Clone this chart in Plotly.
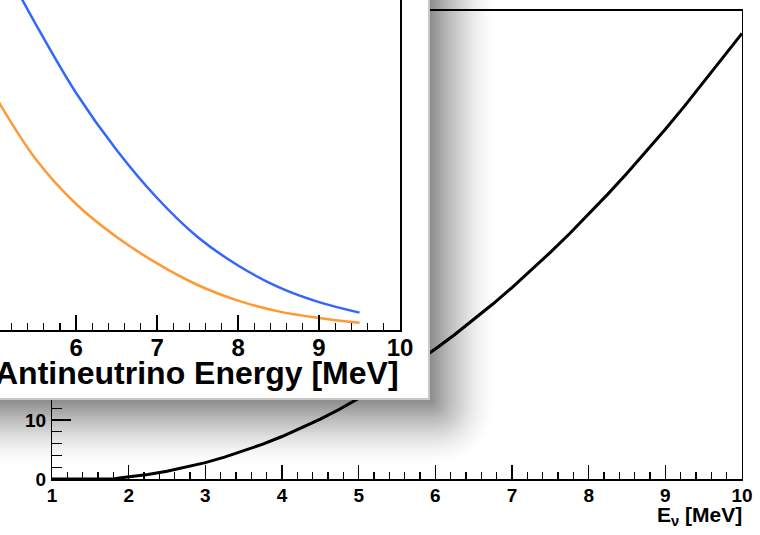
import plotly.graph_objects as go

# ---- background chart: cross section vs neutrino energy ----
energy = [1.0, 1.25, 1.5, 1.75, 1.8, 1.9, 2.0, 2.25, 2.5, 2.75, 3.0, 3.25, 3.5, 3.75,
          4.0, 4.25, 4.5, 4.75, 5.0, 5.25, 5.5, 5.75, 6.0, 6.25, 6.5, 6.75, 7.0,
          7.25, 7.5, 7.75, 8.0, 8.25, 8.5, 8.75, 9.0, 9.25, 9.5, 9.75, 10.0]
xsec = [0.0, 0.0, 0.0, 0.0, 0.0, 0.2, 0.345, 0.77, 1.32, 1.99, 2.78, 3.70, 4.74, 5.90,
        7.20, 8.61, 10.15, 11.82, 13.61, 15.53, 17.57, 19.73, 22.03, 24.44, 26.98,
        29.65, 32.44, 35.36, 38.40, 41.56, 44.85, 48.27, 51.81, 55.48, 59.27,
        63.18, 67.22, 71.39, 75.5]
bg_xticks = [1, 2, 3, 4, 5, 6, 7, 8, 9, 10]
bg_yticks = [0, 10, 20, 30, 40, 50, 60, 70]

# ---- inset: antineutrino spectra ----
inset_energy = [5.0, 5.5, 6.0, 6.5, 7.0, 7.5, 8.0, 8.5, 9.0, 9.5]
flux_blue = [1.27, 1.02, 0.79, 0.60, 0.44, 0.31, 0.215, 0.143, 0.093, 0.058]
flux_orange = [0.78, 0.57, 0.42, 0.31, 0.222, 0.150, 0.098, 0.062, 0.040, 0.024]
inset_xticks = [6, 7, 8, 9, 10]

W, H = 760, 535
FONT = "Liberation Sans"

fig = go.Figure()

fig.add_trace(go.Scatter(x=energy, y=xsec, mode="lines",
                         line=dict(color="black", width=3),
                         xaxis="x", yaxis="y", hoverinfo="skip"))
# invisible carrier for the overlay (panel + shadow) subplot
fig.add_trace(go.Scatter(x=[0], y=[0], mode="markers", marker=dict(opacity=0),
                         xaxis="x2", yaxis="y2", hoverinfo="skip"))
fig.add_trace(go.Scatter(x=inset_energy, y=flux_blue, mode="lines",
                         line=dict(color="#3366ff", width=2.5, shape="spline"),
                         xaxis="x3", yaxis="y3", hoverinfo="skip"))
fig.add_trace(go.Scatter(x=inset_energy, y=flux_orange, mode="lines",
                         line=dict(color="#ff9933", width=2.5, shape="spline"),
                         xaxis="x3", yaxis="y3", hoverinfo="skip"))

# soft drop shadow + panel shapes (pixel space of the overlay subplot)
shapes = []
N, step, DMAX, REACH = 32, 2.0, 0.42, 66.0
PX, PY = 430, 400


def dark(j):
    if j > N:
        return 0.0
    d = (j - 0.5) * step
    return DMAX * max(0.0, 1 - d / REACH) ** 1.5


for k in range(N, 0, -1):
    a = 1 - (1 - dark(k)) / (1 - dark(k + 1))
    X = PX + k * step
    Y = PY + k * step
    r = k * step
    path = (f"M -20,-20 L {X:.2f},-20 L {X:.2f},{Y - r:.2f} "
            f"Q {X:.2f},{Y:.2f} {X - r:.2f},{Y:.2f} L -20,{Y:.2f} Z")
    shapes.append(dict(type="path", path=path, xref="x2", yref="y2", layer="below",
                       fillcolor=f"rgba(0,0,0,{a:.4f})", line=dict(width=0)))
shapes.append(dict(type="rect", x0=-5, y0=-5, x1=PX - 1, y1=PY - 1, xref="x2", yref="y2",
                   layer="below", fillcolor="white", line=dict(color="#c8c8c8", width=2)))

tf_bg = dict(family=FONT, size=19, color="black", weight="bold")
tf_in = dict(family=FONT, size=24, color="black", weight="bold")

fig.update_layout(
    template="none",
    width=W, height=H,
    margin=dict(l=0, r=0, t=0, b=0, pad=0, autoexpand=False),
    paper_bgcolor="white", plot_bgcolor="rgba(0,0,0,0)",
    showlegend=False, hovermode=False,
    shapes=shapes,
    xaxis=dict(domain=[52 / W, 742 / W], range=[1, 10], anchor="y", automargin=False,
               tickmode="array", tickvals=bg_xticks, ticktext=[str(v) for v in bg_xticks],
               ticks="inside", ticklen=14, tickwidth=1.5, tickcolor="black",
               minor=dict(dtick=0.2, ticks="inside", ticklen=7, tickwidth=1.2, tickcolor="black"),
               showline=True, linewidth=2, linecolor="black", mirror=True,
               ticklabelstandoff=-2,
               showgrid=False, zeroline=False, tickfont=tf_bg),
    yaxis=dict(domain=[(H - 479) / H, (H - 11) / H], range=[0, 79.3], anchor="x", automargin=False,
               tickmode="array", tickvals=bg_yticks, ticktext=[str(v) for v in bg_yticks],
               ticks="inside", ticklen=19, tickwidth=1.2, tickcolor="black",
               minor=dict(dtick=2, ticks="inside", ticklen=10, tickwidth=1.2, tickcolor="black"),
               showline=True, linewidth=1, linecolor="black", mirror=True,
               ticklabelstandoff=1,
               showgrid=False, zeroline=False, tickfont=tf_bg),
    xaxis2=dict(domain=[0, 1], range=[0, W], anchor="y2", visible=False, fixedrange=True,
                automargin=False),
    yaxis2=dict(domain=[0, 1], range=[H, 0], anchor="x2", visible=False, fixedrange=True,
                automargin=False),
    xaxis3=dict(domain=[0, 400 / W], range=[5.06, 10], anchor="y3", automargin=False,
                tickmode="array", tickvals=inset_xticks, ticktext=[str(v) for v in inset_xticks],
                ticks="inside", ticklen=15, tickwidth=1.5, tickcolor="black",
                minor=dict(dtick=0.2, ticks="inside", ticklen=7, tickwidth=1.2, tickcolor="black"),
                showline=True, linewidth=2, linecolor="black", mirror=False,
                ticklabelstandoff=-5,
                showgrid=False, zeroline=False, tickfont=tf_in),
    yaxis3=dict(domain=[(H - 330) / H, 1], range=[0, 1.1], anchor="x3", side="right",
                automargin=False,
                showline=True, linewidth=2, linecolor="black", ticks="",
                showticklabels=False, showgrid=False, zeroline=False),
    annotations=[
        dict(text="<b>Antineutrino Energy [MeV]</b>", x=401 / W, y=(H - 373) / H,
             xref="paper", yref="paper", xanchor="right", yanchor="middle",
             showarrow=False, font=dict(family=FONT, size=32, color="black")),
        dict(text="<b>E<sub>ν</sub> [MeV]</b>", x=744 / W, y=(H - 516) / H,
             xref="paper", yref="paper", xanchor="right", yanchor="middle",
             showarrow=False, font=dict(family=FONT, size=21, color="black")),
    ],
)

fig.write_html("out.html",
               config={"displayModeBar": False, "staticPlot": True},
               post_script="document.body.style.margin='0';document.body.style.overflow='hidden';")
